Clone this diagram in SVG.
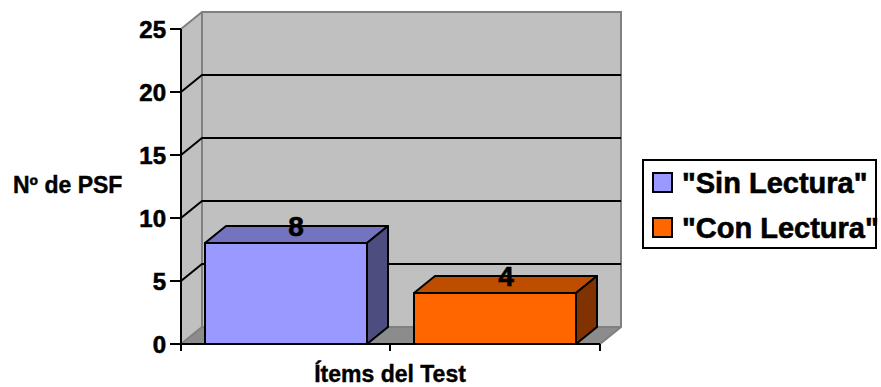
<svg xmlns="http://www.w3.org/2000/svg" width="881" height="387" viewBox="0 0 881 387">
<style>
text{font-family:"Liberation Sans",Arial,sans-serif;font-weight:bold;fill:#000;stroke:#000;stroke-width:0.6}
.tick{font-size:24px;text-anchor:end}
.dl{font-size:28px;text-anchor:middle}
.leg{font-size:29px}
.ttl{font-size:23px;stroke-width:0.4}
.grid{stroke:#000;stroke-width:2;fill:none}
.edge{stroke:#808080;stroke-width:2;fill:none}
.bar{stroke:#000;stroke-width:2;stroke-linejoin:round}
</style>
<rect width="881" height="387" fill="#fff"/>
<g id="plot-area">
<polygon points="181,29 202,12 202,327 181,344" fill="#c0c0c0"/>
<rect x="202" y="12" width="419" height="315" fill="#c0c0c0"/>
<polygon points="181,344 202,327 621,327 600,344" fill="#8c8c8c"/>
<polyline class="edge" points="181,29 202,12 621,12 621,327 600,344"/>
<line class="edge" x1="202" y1="12" x2="202" y2="327"/>
<line class="edge" x1="181" y1="344" x2="202" y2="327"/>
<line class="edge" x1="202" y1="327" x2="621" y2="327"/>
</g>
<g id="gridlines">
<polyline class="grid" points="181,92 202,75 621,75"/>
<polyline class="grid" points="181,155 202,138 621,138"/>
<polyline class="grid" points="181,218 202,201 621,201"/>
<polyline class="grid" points="181,281 202,264 621,264"/>
</g>
<g id="axes">
<line class="grid" x1="181" y1="29" x2="181" y2="351"/>
<line class="grid" x1="180" y1="344" x2="600" y2="344"/>
<line class="grid" x1="390" y1="344" x2="390" y2="351"/>
<line class="grid" x1="600" y1="344" x2="600" y2="351"/>
<g class="grid">
<line x1="170" y1="29" x2="181" y2="29"/>
<line x1="170" y1="92" x2="181" y2="92"/>
<line x1="170" y1="155" x2="181" y2="155"/>
<line x1="170" y1="218" x2="181" y2="218"/>
<line x1="170" y1="281" x2="181" y2="281"/>
<line x1="170" y1="344" x2="181" y2="344"/>
</g>
<text class="tick" x="166" y="38">25</text>
<text class="tick" x="166" y="101">20</text>
<text class="tick" x="166" y="164">15</text>
<text class="tick" x="166" y="227">10</text>
<text class="tick" x="166" y="290">5</text>
<text class="tick" x="166" y="353">0</text>
</g>
<g id="bar-sin-lectura">
<polygon class="bar" points="205,243 226,226 388,226 367,243" fill="#7373bf"/>
<polygon class="bar" points="367,243 388,226 388,327 367,344" fill="#4d4d80"/>
<rect class="bar" x="205" y="243" width="162" height="101" fill="#9999ff"/>
<text class="dl" x="296" y="236">8</text>
</g>
<g id="bar-con-lectura">
<polygon class="bar" points="414,293 435,276 597,276 576,293" fill="#bf4d00"/>
<polygon class="bar" points="576,293 597,276 597,327 576,344" fill="#803300"/>
<rect class="bar" x="414" y="293" width="162" height="51" fill="#ff6600"/>
<text class="dl" x="506" y="286">4</text>
</g>
<g id="axis-titles">
<text class="ttl" x="13" y="193">Nº de PSF</text>
<text class="ttl" x="390" y="382" text-anchor="middle">Ítems del Test</text>
</g>
<g id="legend">
<rect x="643" y="160" width="233" height="88" fill="#fff" stroke="#000" stroke-width="2"/>
<rect x="653" y="173" width="19" height="19" fill="#9999ff" stroke="#000" stroke-width="2"/>
<text class="leg" x="682" y="193">"Sin Lectura"</text>
<rect x="653" y="218" width="19" height="19" fill="#ff6600" stroke="#000" stroke-width="2"/>
<text class="leg" x="682" y="238">"Con Lectura"</text>
</g>
</svg>
